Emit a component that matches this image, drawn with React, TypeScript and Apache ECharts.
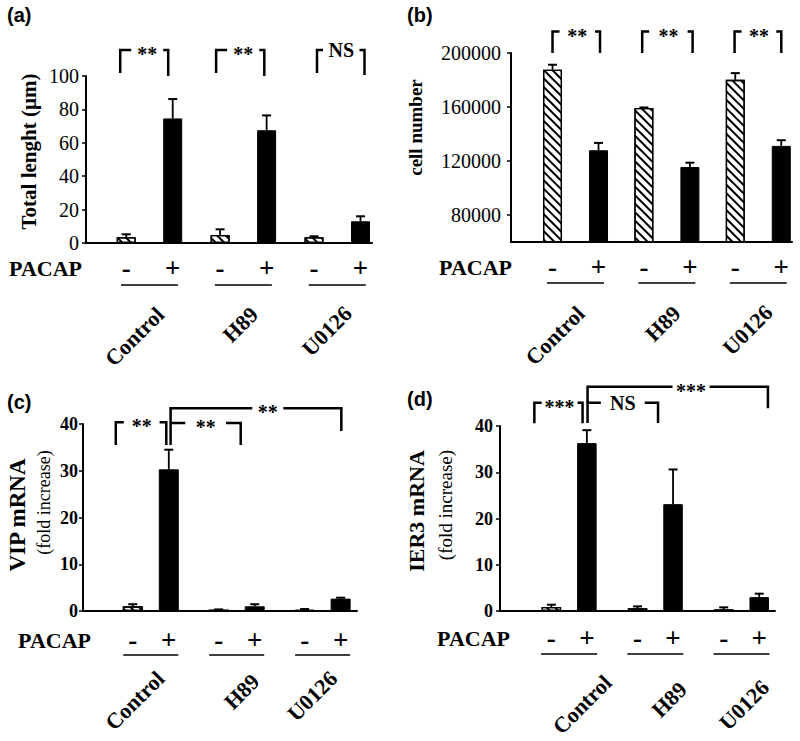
import { useEffect, useRef } from 'react';
import * as echarts from 'echarts';

// ---------- data ----------
const GROUPS = ['Control', 'H89', 'U0126'];
const SIGNS = ['-', '+'];

// (a) Total length (µm)
const A_MINUS = [3.4, 4.8, 3.4];
const A_MINUS_ERR = [1.8, 3.4, 0.6];
const A_PLUS = [74.6, 67.5, 13];
const A_PLUS_ERR = [11.6, 8.9, 3];
const A_TICKS = [0, 20, 40, 60, 80, 100];

// (b) cell number
const B_MINUS = [187600, 159250, 180100];
const B_MINUS_ERR = [3700, 400, 5000];
const B_PLUS = [127950, 115500, 131200];
const B_PLUS_ERR = [5450, 3250, 4200];
const B_TICKS = [80000, 120000, 160000, 200000];

// (c) VIP mRNA (fold increase)
const C_MINUS = [1.0, 0.29, 0.22];
const C_MINUS_ERR = [0.45, 0.05, 0.2];
const C_PLUS = [30.3, 1.0, 2.65];
const C_PLUS_ERR = [4.2, 0.45, 0.2];
const C_TICKS = [0, 10, 20, 30, 40];

// (d) IER3 mRNA (fold increase)
const D_MINUS = [0.86, 0.58, 0.36];
const D_MINUS_ERR = [0.5, 0.42, 0.43];
const D_PLUS = [36.3, 23.1, 3.0];
const D_PLUS_ERR = [2.8, 7.5, 0.75];
const D_TICKS = [0, 10, 20, 30, 40];

// ---------- layout / style ----------
const SERIF = '"Liberation Serif", "Times New Roman", serif';
const SANS = '"Liberation Sans", Arial, sans-serif';

const PANELS: any[] = [
  {
    tag: '(a)', tagX: 7, tagY: 15,
    grid: { left: 86, top: 76, width: 286, height: 167 },
    xMin: -0.676, xMax: 2.37, yMin: 0, yMax: 100, ticks: A_TICKS,
    minus: A_MINUS, minusErr: A_MINUS_ERR, plus: A_PLUS, plusErr: A_PLUS_ERR,
    barWidth: 19, pairSpacing: 46.5,
    tickSize: 20, tickWeight: 'normal', labelMargin: 7,
    titles: [{ text: 'Total lenght (µm)', x: 28.5, y: 151.5, size: 21, weight: 'bold' }],
    pacap: { x: 82, y: 268 },
    signDy: 25, lineDy: 42, lineHalf: 28.5, nameDx: [3, 3, 3], nameDy: [60, 60, 59],
    brackets: [
      { a: [0, 0], b: [0, 1], dx: [-6, -4.5], top: -26, bot: [-3, 0], seg: [11, 5], label: '**' },
      { a: [1, 0], b: [1, 1], dx: [-4, -2.3], top: -26, bot: [-3, 0], seg: [11, 5], label: '**' },
      { a: [2, 0], b: [2, 1], dx: [3, 4], top: -26, bot: [-3, -1], seg: [6, 5], label: 'NS' },
    ],
  },
  {
    tag: '(b)', tagX: 407, tagY: 15,
    grid: { left: 511, top: 53, width: 281, height: 189 },
    xMin: -0.706, xMax: 2.369, yMin: 60000, yMax: 200000, ticks: B_TICKS,
    minus: B_MINUS, minusErr: B_MINUS_ERR, plus: B_PLUS, plusErr: B_PLUS_ERR,
    barWidth: 19, pairSpacing: 46,
    tickSize: 20, tickWeight: 'normal', labelMargin: 10,
    titles: [{ text: 'cell number', x: 415, y: 127.5, size: 19, weight: 'bold' }],
    pacap: { x: 512, y: 267 },
    signDy: 25, lineDy: 41, lineHalf: 28.5, nameDx: [-2.5, 2, 2.7], nameDy: [60, 60, 59],
    brackets: [
      { a: [0, 0], b: [0, 1], dx: [0, 1.5], top: -21.5, bot: [0, 0], seg: [7, 5], label: '**' },
      { a: [1, 0], b: [1, 1], dx: [-1.7, 2.7], top: -21.5, bot: [0, 0], seg: [7, 5], label: '**' },
      { a: [2, 0], b: [2, 1], dx: [-0.7, 0], top: -21.5, bot: [0, 0], seg: [7, 5], label: '**' },
    ],
  },
  {
    tag: '(c)', tagX: 7, tagY: 402,
    grid: { left: 83, top: 424, width: 274, height: 187 },
    xMin: -0.789, xMax: 2.4, yMin: 0, yMax: 40, ticks: C_TICKS,
    minus: C_MINUS, minusErr: C_MINUS_ERR, plus: C_PLUS, plusErr: C_PLUS_ERR,
    barWidth: 20, pairSpacing: 36,
    tickSize: 18, tickWeight: 'bold', labelMargin: 5,
    titles: [
      { text: 'VIP mRNA', x: 17.5, y: 515, size: 23, weight: 'bold' },
      { text: '(fold increase)', x: 44, y: 502.5, size: 18, weight: 'normal' },
    ],
    pacap: { x: 91, y: 640 },
    signDy: 29, lineDy: 44, lineHalf: 27.5, nameDx: [2, 11, 3], nameDy: [56, 59, 56],
    brackets: [
      { a: [0, 0], b: [0, 1], dx: [-17, -2.5], top: -1.7, bot: [21, 21], seg: [8, 6.7], label: '**' },
      { a: [0, 1], b: [1, 1], dx: [1.8, -14], top: -1, bot: [21, 21], seg: [14.7, 14.7], label: '**' },
      { a: [0, 1], b: [2, 1], dx: [1.8, 0.7], top: -15.7, bot: [-1, 7], seg: [81.7, 58], label: '**' },
    ],
  },
  {
    tag: '(d)', tagX: 407, tagY: 399,
    grid: { left: 500, top: 426, width: 275, height: 185 },
    xMin: -0.802, xMax: 2.389, yMin: 0, yMax: 40, ticks: D_TICKS,
    minus: D_MINUS, minusErr: D_MINUS_ERR, plus: D_PLUS, plusErr: D_PLUS_ERR,
    barWidth: 19.5, pairSpacing: 35.5,
    tickSize: 18, tickWeight: 'bold', labelMargin: 7,
    titles: [
      { text: 'IER3 mRNA', x: 416.5, y: 511, size: 22, weight: 'bold' },
      { text: '(fold increase)', x: 445, y: 505, size: 19, weight: 'normal' },
    ],
    pacap: { x: 510, y: 638 },
    signDy: 27, lineDy: 43, lineHalf: 28, nameDx: [31, 20, 16], nameDy: [60, 67, 65],
    brackets: [
      { a: [0, 0], b: [0, 1], dx: [-17, -4.3], top: -23.3, bot: [-2.7, -2.7], seg: [7.3, 5], label: '***' },
      { a: [0, 1], b: [1, 1], dx: [0.7, -15], top: -23.3, bot: [-3, -3], seg: [13.3, 13.3], label: 'NS' },
      { a: [0, 1], b: [2, 1], dx: [0.7, 8.7], top: -39.3, bot: [-23.3, -17.7], seg: [85, 58.3], label: '***' },
    ],
  },
];

const BLACK = '#000';

function txt(x: number, y: number, text: string, size: number, weight: string, align = 'center', vAlign = 'middle', rotation = 0, family = SERIF): any {
  return {
    type: 'text', x, y, rotation, silent: true,
    style: {
      text, fontSize: size, fontWeight: weight, fontFamily: family, fill: BLACK,
      align, verticalAlign: vAlign, textAlign: align, textVerticalAlign: vAlign,
    },
  };
}

function errRender(offset: number) {
  return (_params: any, api: any) => {
    const g = api.value(0);
    const base = api.coord([g, api.value(1)]);
    const top = api.coord([g, api.value(2)]);
    const x = base[0] + offset;
    return {
      type: 'group',
      children: [
        { type: 'line', shape: { x1: x, y1: base[1], x2: x, y2: top[1] }, style: { stroke: BLACK, lineWidth: 1.8 } },
        { type: 'line', shape: { x1: x - 4.5, y1: top[1], x2: x + 4.5, y2: top[1] }, style: { stroke: BLACK, lineWidth: 2 } },
      ],
    };
  };
}

function annotRender(p: any) {
  return (_params: any, api: any) => {
    const cx = (g: number) => api.coord([g, p.yMin])[0];
    const axisY = api.coord([0, p.yMin])[1];
    const gridTop = api.coord([0, p.yMax])[1];
    const bx = (g: number, s: number) => cx(g) + (s ? 1 : -1) * p.pairSpacing / 2;
    const kids: any[] = [];
    GROUPS.forEach((name, g) => {
      SIGNS.forEach((sg, s) => kids.push(txt(bx(g, s), axisY + p.signDy, sg, 27, 'bold')));
      kids.push({
        type: 'line',
        shape: { x1: cx(g) - p.lineHalf, y1: axisY + p.lineDy, x2: cx(g) + p.lineHalf, y2: axisY + p.lineDy },
        style: { stroke: BLACK, lineWidth: 1.5 },
      });
      kids.push(txt(cx(g) + p.nameDx[g], axisY + p.nameDy[g], name, 22, 'bold', 'right', 'top', Math.PI / 4));
    });
    p.brackets.forEach((b: any) => {
      const x1 = bx(b.a[0], b.a[1]) + b.dx[0];
      const x2 = bx(b.b[0], b.b[1]) + b.dx[1];
      const yt = gridTop + b.top;
      const st = { stroke: BLACK, lineWidth: 2.5, fill: 'none', lineJoin: 'miter' };
      kids.push({ type: 'polyline', shape: { points: [[x1, gridTop + b.bot[0]], [x1, yt], [x1 + b.seg[0], yt]] }, style: st });
      kids.push({ type: 'polyline', shape: { points: [[x2 - b.seg[1], yt], [x2, yt], [x2, gridTop + b.bot[1]]] }, style: st });
      const tx = (x1 + b.seg[0] + x2 - b.seg[1]) / 2;
      const star = b.label.indexOf('*') >= 0;
      kids.push(txt(tx, yt + (star ? 4 : 0), b.label, 20, 'bold'));
    });
    return { type: 'group', children: kids };
  };
}

function buildOption() {
  const series: any[] = [];
  const graphic: any[] = [];
  const hatch = {
    symbol: 'rect', symbolSize: 1, dashArrayX: [1, 0], dashArrayY: [2, 3.2],
    rotation: Math.PI / 4, color: BLACK,
  };
  PANELS.forEach((p, i) => {
    const gap = `${((p.pairSpacing - p.barWidth) / p.barWidth) * 100}%`;
    series.push({
      type: 'bar', name: 'PACAP -', xAxisIndex: i, yAxisIndex: i,
      data: GROUPS.map((_, g) => [g, p.minus[g]]),
      barWidth: p.barWidth, barGap: gap,
      itemStyle: { color: '#fff', borderColor: BLACK, borderWidth: 1.3, decal: hatch },
      emphasis: { disabled: true }, silent: true,
    });
    series.push({
      type: 'bar', name: 'PACAP +', xAxisIndex: i, yAxisIndex: i,
      data: GROUPS.map((_, g) => [g, p.plus[g]]),
      barWidth: p.barWidth, barGap: gap,
      itemStyle: { color: BLACK, borderColor: BLACK, borderWidth: 1 },
      emphasis: { disabled: true }, silent: true,
    });
    series.push({
      type: 'custom', xAxisIndex: i, yAxisIndex: i, z: 4, silent: true,
      data: GROUPS.map((_, g) => [g, p.minus[g], p.minus[g] + p.minusErr[g]]),
      renderItem: errRender(-p.pairSpacing / 2),
    });
    series.push({
      type: 'custom', xAxisIndex: i, yAxisIndex: i, z: 4, silent: true,
      data: GROUPS.map((_, g) => [g, p.plus[g], p.plus[g] + p.plusErr[g]]),
      renderItem: errRender(p.pairSpacing / 2),
    });
    series.push({
      type: 'custom', xAxisIndex: i, yAxisIndex: i, z: 5, silent: true, clip: false,
      data: [[0, p.yMin]],
      renderItem: annotRender(p),
    });
    graphic.push(txt(p.tagX, p.tagY, p.tag, 20, 'bold', 'left', 'middle', 0, SANS));
    p.titles.forEach((t: any) => graphic.push(txt(t.x, t.y, t.text, t.size, t.weight, 'center', 'middle', Math.PI / 2)));
    graphic.push(txt(p.pacap.x, p.pacap.y, 'PACAP', 22, 'bold', 'right', 'middle'));
  });

  return {
    animation: false,
    backgroundColor: '#fff',
    grid: PANELS.map((p) => ({ ...p.grid, containLabel: false, outerBoundsMode: 'none' })),
    xAxis: PANELS.map((p, i) => ({
      type: 'value', gridIndex: i, min: p.xMin, max: p.xMax,
      axisLine: { show: true, onZero: false, lineStyle: { color: BLACK, width: 2 } },
      axisTick: { show: false }, axisLabel: { show: false }, splitLine: { show: false },
    })),
    yAxis: PANELS.map((p, i) => ({
      type: 'value', gridIndex: i, min: p.yMin, max: p.yMax,
      axisLine: { show: true, onZero: false, lineStyle: { color: BLACK, width: 2 } },
      axisTick: { show: true, length: 4, customValues: p.ticks, lineStyle: { color: BLACK, width: 1.5 } },
      axisLabel: {
        show: true, customValues: p.ticks, formatter: (v: number) => String(v),
        color: BLACK, fontFamily: SERIF, fontSize: p.tickSize, fontWeight: p.tickWeight, margin: p.labelMargin,
      },
      splitLine: { show: false },
    })),
    series,
    graphic,
  };
}

export default function App() {
  const ref = useRef<HTMLDivElement>(null);
  useEffect(() => {
    const chart = echarts.init(ref.current as HTMLDivElement, null, { renderer: 'svg' });
    chart.setOption(buildOption() as any);
    return () => chart.dispose();
  }, []);
  return (
    <div
      ref={ref}
      style={{ position: 'absolute', left: 0, top: 0, width: 800, height: 741, background: '#fff' }}
    />
  );
}
